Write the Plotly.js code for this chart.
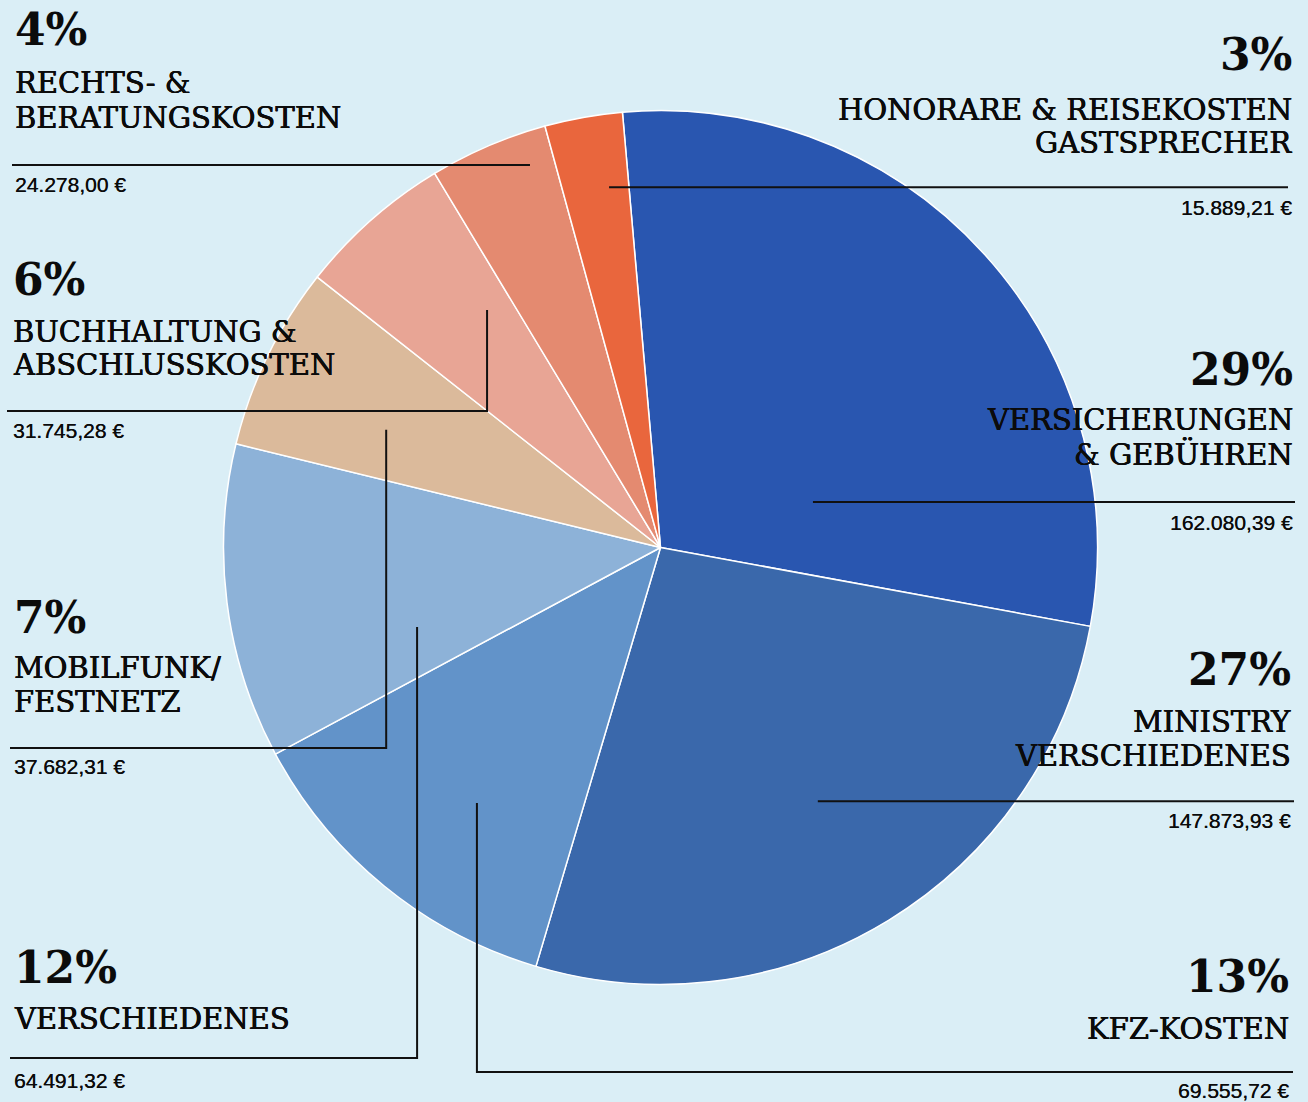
<!DOCTYPE html>
<html><head><meta charset="utf-8">
<script src="https://cdn.plot.ly/plotly-3.0.1.min.js"></script>
<style>html,body{margin:0;padding:0;background:#daeef6;overflow:hidden}#chart{width:1308px;height:1102px;}</style>
</head><body><div id="chart"></div>
<script>
// ---- data ----
const categories = [
  "VERSICHERUNGEN\n& GEBÜHREN",
  "MINISTRY\nVERSCHIEDENES",
  "KFZ-KOSTEN",
  "VERSCHIEDENES",
  "MOBILFUNK/\nFESTNETZ",
  "BUCHHALTUNG &\nABSCHLUSSKOSTEN",
  "RECHTS- &\nBERATUNGSKOSTEN",
  "HONORARE & REISEKOSTEN\nGASTSPRECHER"
];
const amounts = [162080.39, 147873.93, 69555.72, 64491.32, 37682.31, 31745.28, 24278.00, 15889.21];
const sliceColors = ["#2956b0", "#3a68ab", "#6293c9", "#8db2d8", "#dbba9b", "#e8a595", "#e48a70", "#e9663d"];

// ---- layout config (pixel positions of label blocks, leader lines) ----
const W = 1308, H = 1102;
const CX = 660.5, CY = 547.5, R = 437, ROT = -5;
const labelPos = [
  {side:'right', x:1294, pctBase:385, nameBase:[430,465], valBase:530, t:0.744, rf:0.364, elbowY:null, endX:1295},
  {side:'right', x:1292, pctBase:685, nameBase:[732,766], valBase:828, t:0.497, rf:0.683, elbowY:null, endX:1294},
  {side:'right', x:1290, pctBase:992, nameBase:[1039], valBase:1098, t:0.423, rf:0.720, elbowY:1072, endX:1293},
  {side:'left',  x:13,   pctBase:983, nameBase:[1029], valBase:1088, t:0.241, rf:0.586, elbowY:1058, endX:10},
  {side:'left',  x:13,   pctBase:633, nameBase:[678,712], valBase:774, t:0.387, rf:0.683, elbowY:748, endX:10},
  {side:'left',  x:12,   pctBase:295, nameBase:[342,375], valBase:438, t:0.757, rf:0.673, elbowY:411, endX:7},
  {side:'left',  x:14,   pctBase:45,  nameBase:[93,128], valBase:192, t:0.778, rf:0.925, elbowY:null, endX:12},
  {side:'right', x:1293, pctBase:70,  nameBase:[120,153], valBase:215, t:0.698, rf:0.833, elbowY:null, endX:1288}
];
const PCT_SIZE = 44, NAME_SIZE = 29, VAL_SIZE = 21;
const TEXT_COLOR = "#0b0b0b";
const NAME_SHADOW = "0.35px 0 0 #0b0b0b, -0.35px 0 0 #0b0b0b";
const VAL_SHADOW = "0.2px 0 0 #0b0b0b";

function fmtEuro(v) {
  const parts = v.toFixed(2).split('.');
  const intPart = parts[0].replace(/\B(?=(\d{3})+(?!\d))/g, '.');
  return intPart + ',' + parts[1] + ' €';
}
const px = x => x / W;
const py = y => 1 - y / H;

const total = amounts.reduce((a, b) => a + b, 0);
const annotations = [];
const shapes = [];
let cum = 0;
amounts.forEach((v, i) => {
  const lp = labelPos[i];
  const startDeg = ROT + 360 * cum / total;
  const spanDeg = 360 * v / total;
  cum += v;
  const th = (startDeg + lp.t * spanDeg) * Math.PI / 180;
  const ax = CX + lp.rf * R * Math.sin(th);
  const ay = CY - lp.rf * R * Math.cos(th);
  let path;
  if (lp.elbowY !== null) {
    path = `M ${px(ax)},${py(ay)} L ${px(ax)},${py(lp.elbowY)} L ${px(lp.endX)},${py(lp.elbowY)}`;
  } else {
    path = `M ${px(ax)},${py(ay)} L ${px(lp.endX)},${py(ay)}`;
  }
  shapes.push({type:'path', xref:'paper', yref:'paper', path: path, line:{color:'#111111', width:2}});

  const xa = lp.side === 'left' ? 'left' : 'right';
  const mk = (text, base, font) => ({
    xref:'paper', yref:'paper', x: px(lp.x), y: py(base - 0.346 * font.size),
    xanchor: xa, yanchor:'middle', showarrow:false, borderpad:0,
    text: text, font: font
  });
  annotations.push(mk(Math.round(v / total * 100) + '%', lp.pctBase,
    {family:'DejaVu Serif', size:PCT_SIZE, weight:'bold', color:TEXT_COLOR}));
  categories[i].split('\n').forEach((line, k) => {
    annotations.push(mk(line, lp.nameBase[k], {family:'DejaVu Serif', size:NAME_SIZE, color:TEXT_COLOR, shadow:NAME_SHADOW}));
  });
  annotations.push(mk(fmtEuro(v), lp.valBase, {family:'Liberation Sans, Arial, sans-serif', size:VAL_SIZE, color:TEXT_COLOR, shadow:VAL_SHADOW}));
});

const trace = {
  type:'pie',
  values: amounts,
  labels: categories.map(c => c.replace('\n', ' ')),
  sort:false,
  direction:'clockwise',
  rotation: ROT,
  marker:{colors: sliceColors, line:{color:'#ffffff', width:1.5}},
  textinfo:'none',
  hoverinfo:'skip',
  showlegend:false,
  domain:{x:[(CX - R) / W, (CX + R) / W], y:[1 - (CY + R) / H, 1 - (CY - R) / H]}
};

Plotly.newPlot('chart', [trace], {
  width:W, height:H,
  margin:{l:0, r:0, t:0, b:0},
  paper_bgcolor:'#daeef6', plot_bgcolor:'#daeef6',
  showlegend:false,
  annotations: annotations,
  shapes: shapes
}, {staticPlot:true, displayModeBar:false});
</script>
</body></html>
